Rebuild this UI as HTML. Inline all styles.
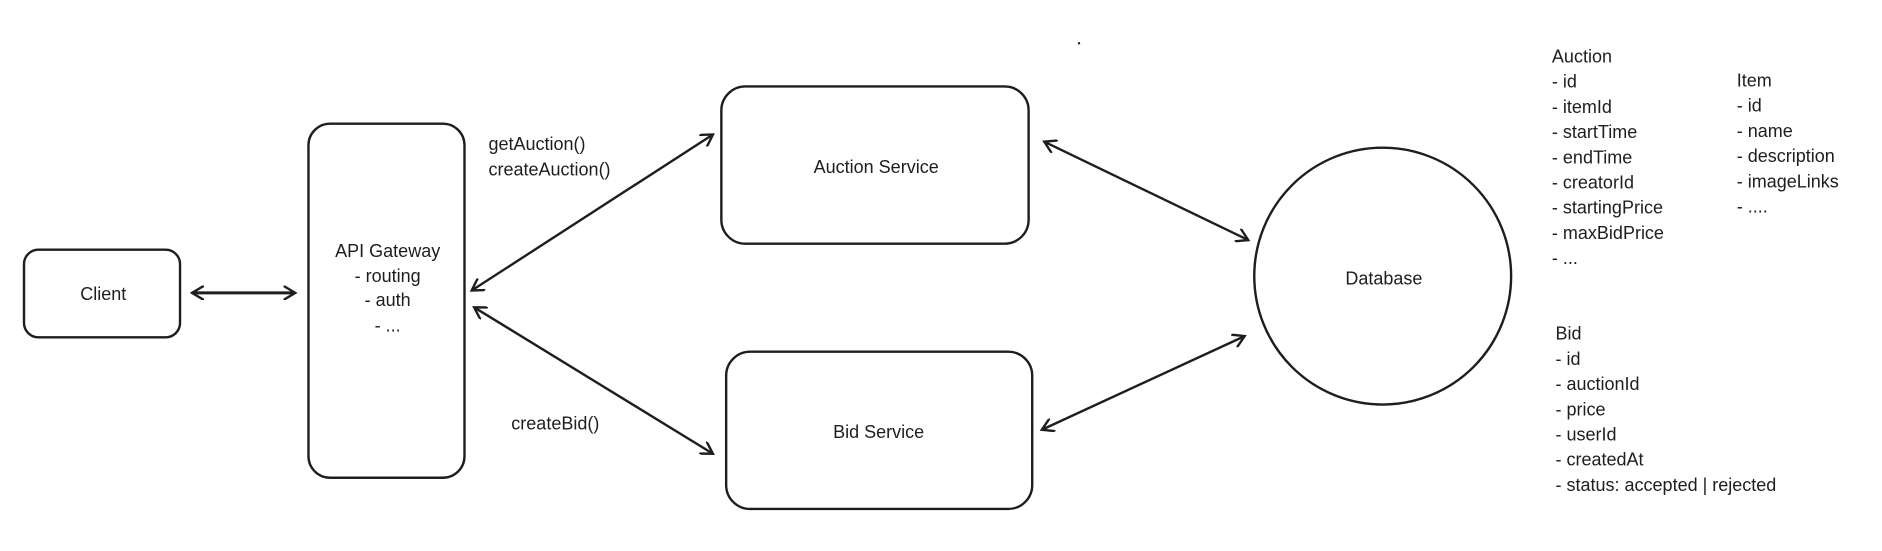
<!DOCTYPE html>
<html><head><meta charset="utf-8"><style>
html,body{margin:0;padding:0;background:#fff;}
svg{display:block;}
text{font-family:"Liberation Sans",sans-serif;font-size:15px;fill:#1e1e1e;}
</style></head><body>
<svg width="1882" height="551" viewBox="0 0 1568 459" xmlns="http://www.w3.org/2000/svg">
<defs>
<marker id="a" markerWidth="12" markerHeight="12" refX="10" refY="6" orient="auto-start-reverse" markerUnits="userSpaceOnUse">
<path d="M0,0 L10,6 L0,12" fill="none" stroke="#1e1e1e" stroke-width="2"/>
</marker>
</defs>
<g fill="none" stroke="#1e1e1e" stroke-width="2">
<rect x="20" y="208" width="130" height="73" rx="12"/>
<rect x="257" y="103" width="130" height="295" rx="18"/>
<rect x="601" y="72" width="256" height="131" rx="20"/>
<rect x="605" y="293" width="255" height="131" rx="20"/>
<circle cx="1152" cy="230" r="107"/>
<line x1="160" y1="244" x2="246" y2="244" stroke-width="2.5" marker-start="url(#a)" marker-end="url(#a)"/>
<line x1="393" y1="242" x2="594" y2="112" marker-start="url(#a)" marker-end="url(#a)"/>
<line x1="395" y1="256" x2="594" y2="378" marker-start="url(#a)" marker-end="url(#a)"/>
<line x1="870" y1="118" x2="1040" y2="200" marker-start="url(#a)" marker-end="url(#a)"/>
<line x1="868" y1="358" x2="1037" y2="280" marker-start="url(#a)" marker-end="url(#a)"/>
</g>
<circle cx="899" cy="36" r="1" fill="#1e1e1e"/>
<g text-anchor="middle">
<text x="86" y="250">Client</text>
<text x="323" y="214">API Gateway</text>
<text x="323" y="235">- routing</text>
<text x="323" y="255">- auth</text>
<text x="323" y="276">- ...</text>
<text x="730" y="144">Auction Service</text>
<text x="732" y="365">Bid Service</text>
<text x="1153" y="237">Database</text>
</g>
<text x="407" y="125">getAuction()</text>
<text x="407" y="146">createAuction()</text>
<text x="426" y="358">createBid()</text>
<g>
<text x="1293" y="52">Auction</text>
<text x="1293" y="73">- id</text>
<text x="1293" y="94">- itemId</text>
<text x="1293" y="115">- startTime</text>
<text x="1293" y="136">- endTime</text>
<text x="1293" y="157">- creatorId</text>
<text x="1293" y="178">- startingPrice</text>
<text x="1293" y="199">- maxBidPrice</text>
<text x="1293" y="220">- ...</text>
<text x="1447" y="72">Item</text>
<text x="1447" y="93">- id</text>
<text x="1447" y="114">- name</text>
<text x="1447" y="135">- description</text>
<text x="1447" y="156">- imageLinks</text>
<text x="1447" y="177">- ....</text>
<text x="1296" y="283">Bid</text>
<text x="1296" y="304">- id</text>
<text x="1296" y="325">- auctionId</text>
<text x="1296" y="346">- price</text>
<text x="1296" y="367">- userId</text>
<text x="1296" y="388">- createdAt</text>
<text x="1296" y="409">- status: accepted | rejected</text>
</g>
</svg>
</body></html>
